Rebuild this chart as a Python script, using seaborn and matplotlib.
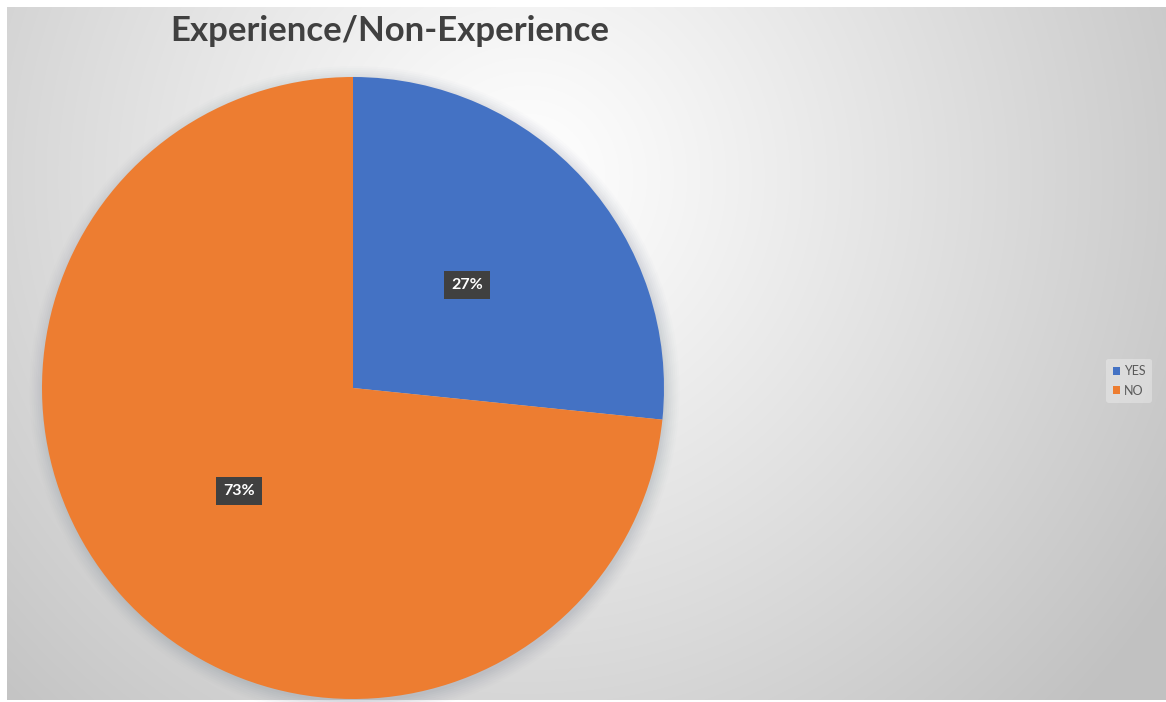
import matplotlib
matplotlib.use("Agg")
import matplotlib.pyplot as plt
import numpy as np
import seaborn as sns
from matplotlib.patches import Circle

# ── Data ──────────────────────────────────────────────────────────────────────
categories = ["YES", "NO"]
counts = [41, 113]
colors = ["#4472C4", "#ED7D31"]
title = "Experience/Non-Experience"

sns.set_theme(style="white")
plt.rcParams["font.family"] = ["Lato", "DejaVu Sans"]

W, H = 1166, 702
fig = plt.figure(figsize=(W / 100, H / 100), dpi=100)
fig.patch.set_facecolor("white")

# ── Background: soft radial gradient (Excel chart style) ──────────────────────
bg = fig.add_axes([7 / W, 2 / H, 1 - 7 / W, 1 - 9 / H])
yy, xx = np.mgrid[0:H - 9, 0:W - 7]
dist = np.hypot(xx - 520, yy - 170)
shade = 1 - 0.24 * np.clip(dist / 760, 0, 1) ** 1.1
bg.imshow(np.dstack([shade] * 3), aspect="auto", interpolation="bilinear")
bg.set_axis_off()

# ── Pie ───────────────────────────────────────────────────────────────────────
cx, cy, r = 353, 388, 311
ax = fig.add_axes([(cx - r) / W, (H - cy - r) / H, 2 * r / W, 2 * r / H])

total = sum(counts)
wedges, _ = ax.pie(counts, colors=colors, startangle=90, counterclock=False,
                   radius=1, wedgeprops=dict(linewidth=0))
for w in wedges:
    w.set_zorder(2)
ax.set_xlim(-1, 1)
ax.set_ylim(-1, 1)
ax.set_axis_off()

# soft shadow round the pie
for rr, a in zip(np.linspace(1.045, 1.0, 8), np.linspace(0.02, 0.06, 8)):
    ax.add_patch(Circle((0.005, -0.01), rr, color="#7f8a99", alpha=a,
                        lw=0, clip_on=False, zorder=0))

# percentage labels in dark boxes
angle = 90.0
for c in counts:
    frac = c / total
    mid = np.deg2rad(angle - frac * 360 / 2)
    angle -= frac * 360
    ax.text(0.495 * np.cos(mid), 0.495 * np.sin(mid), f"{frac * 100:.0f}%",
            ha="center", va="center", color="white", fontsize=11.5,
            fontweight="bold", zorder=5, clip_on=False,
            bbox=dict(boxstyle="square,pad=0.45", facecolor="#404040",
                      edgecolor="none"))

# ── Title ─────────────────────────────────────────────────────────────────────
fig.text(390 / W, 1 - 31 / H, title, ha="center", va="center",
         fontsize=25, fontweight="bold", color="#404040")

# ── Legend ────────────────────────────────────────────────────────────────────
leg = fig.legend(wedges, categories, loc="center left",
                 bbox_to_anchor=(1100 / W, 1 - 381 / H),
                 frameon=True, fontsize=9, handlelength=0.6, handleheight=0.6,
                 handletextpad=0.3, labelspacing=0.6, borderpad=0.5,
                 labelcolor="#595959")
leg.get_frame().set_facecolor("white")
leg.get_frame().set_alpha(0.3)
leg.get_frame().set_edgecolor("none")

fig.savefig("out.png", dpi=100)
plt.close(fig)
